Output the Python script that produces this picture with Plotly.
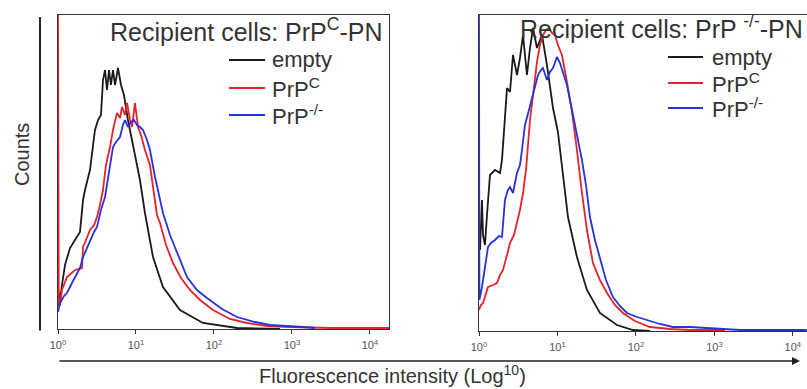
import plotly.graph_objects as go

# ---------- data (x in log10 decades of fluorescence, y = counts, arbitrary units) ----------
# Left panel: Recipient cells PrPc-PN
L_empty_dec = [0.000, 0.026, 0.051, 0.090, 0.154, 0.218, 0.282, 0.321, 0.346, 0.410, 0.474, 0.513, 0.551,
               0.577, 0.603, 0.628, 0.654, 0.679, 0.705, 0.731, 0.769, 0.808, 0.846, 0.897, 0.949, 1.000,
               1.051, 1.115, 1.218, 1.346, 1.564, 1.859, 2.295, 2.846]
L_empty_cnt = [39, 29, 44, 64, 81, 89, 97, 129, 139, 159, 199, 209, 214,
               249, 259, 239, 259, 244, 259, 244, 261, 244, 234, 209, 189, 169,
               149, 116, 72, 42, 19, 6, 1, 0]

L_prpc_dec = [0.000, 0.010, 0.026, 0.051, 0.115, 0.218, 0.308, 0.321, 0.359, 0.410, 0.462, 0.500, 0.538,
              0.577, 0.615, 0.667, 0.705, 0.756, 0.795, 0.821, 0.859, 0.885, 0.923, 0.949, 0.987, 1.026,
              1.064, 1.115, 1.179, 1.218, 1.269, 1.308, 1.385, 1.474, 1.577, 1.692, 1.821, 1.987, 2.205,
              2.423, 2.679, 2.974, 3.487, 4.244]
L_prpc_cnt = [314, 24, 24, 39, 52, 59, 61, 82, 89, 99, 104, 112, 124,
              139, 164, 182, 199, 216, 211, 222, 214, 226, 209, 202, 226, 202,
              194, 179, 164, 144, 114, 106, 84, 66, 51, 39, 29, 19, 10,
              6, 3, 2, 1, 1]

L_ko_dec = [0.000, 0.026, 0.077, 0.115, 0.179, 0.244, 0.282, 0.321, 0.372, 0.410, 0.462, 0.500, 0.551,
            0.603, 0.641, 0.679, 0.705, 0.744, 0.795, 0.833, 0.859, 0.897, 0.936, 0.974, 1.013, 1.051,
            1.090, 1.141, 1.179, 1.244, 1.295, 1.346, 1.436, 1.526, 1.654, 1.782, 1.910, 2.103, 2.295,
            2.526, 2.718, 3.141, 3.295]
L_ko_cnt = [17, 26, 33, 36, 46, 56, 61, 72, 81, 89, 97, 102, 119,
            132, 151, 169, 182, 187, 192, 204, 209, 202, 207, 209, 204, 202,
            199, 189, 179, 152, 134, 116, 94, 76, 52, 39, 31, 20, 12,
            7, 4, 2, 1]

# Right panel: Recipient cells PrP-/- PN
R_empty_dec = [0.013, 0.038, 0.051, 0.076, 0.102, 0.140, 0.204, 0.268, 0.293, 0.318, 0.357, 0.395, 0.433,
               0.484, 0.522, 0.561, 0.611, 0.650, 0.688, 0.739, 0.803, 0.866, 0.904, 0.943, 1.006, 1.057,
               1.134, 1.248, 1.376, 1.541, 1.758, 1.962, 2.178]
R_empty_cnt = [81, 131, 96, 86, 116, 156, 161, 158, 171, 201, 243, 239, 276,
               256, 273, 296, 256, 283, 303, 283, 296, 266, 243, 223, 199, 166,
               114, 74, 41, 18, 6, 1, 0]

R_prpc_dec = [0.000, 0.025, 0.051, 0.115, 0.178, 0.229, 0.268, 0.306, 0.357, 0.395, 0.446, 0.484, 0.522,
              0.561, 0.599, 0.650, 0.701, 0.739, 0.777, 0.815, 0.854, 0.892, 0.930, 0.968, 1.006, 1.057,
              1.121, 1.185, 1.248, 1.299, 1.376, 1.452, 1.541, 1.631, 1.732, 1.834, 1.987, 2.178, 2.433,
              2.688, 3.134]
R_prpc_cnt = [21, 26, 28, 44, 46, 48, 56, 61, 76, 88, 96, 108, 121,
              138, 161, 211, 246, 269, 286, 296, 301, 303, 298, 296, 286, 276,
              249, 219, 181, 146, 101, 68, 51, 38, 26, 18, 10, 4, 2,
              1, 1]

R_ko_dec = [0.000, 0.005, 0.038, 0.076, 0.115, 0.153, 0.204, 0.255, 0.293, 0.331, 0.369, 0.395, 0.433,
            0.484, 0.522, 0.548, 0.586, 0.637, 0.675, 0.713, 0.752, 0.790, 0.815, 0.866, 0.904, 0.943,
            0.994, 1.032, 1.083, 1.121, 1.185, 1.248, 1.312, 1.363, 1.414, 1.478, 1.541, 1.618, 1.707,
            1.796, 1.885, 2.013, 2.140, 2.306, 2.471, 2.688, 2.904, 3.325, 4.178]
R_ko_cnt = [316, 31, 44, 64, 84, 88, 91, 95, 94, 131, 141, 144, 138,
            158, 166, 181, 206, 221, 233, 246, 256, 261, 263, 251, 259, 263,
            274, 268, 256, 246, 221, 196, 171, 146, 114, 91, 74, 51, 34,
            25, 18, 14, 11, 7, 4, 4, 3, 1, 1]

series_names = ["empty", "PrP<sup>C</sup>", "PrP<sup>-/-</sup>"]
series_colors = ["#1a1a1a", "#e8222a", "#2633d9"]

tick_vals = [1, 10, 100, 1000, 10000]
tick_text = ["10<sup>0</sup>", "10<sup>1</sup>", "10<sup>2</sup>", "10<sup>3</sup>", "10<sup>4</sup>"]

left_title = "Recipient cells: PrP<sup>C</sup>-PN"
right_title = "Recipient cells: PrP <sup>-/-</sup>-PN"

FONT = "Liberation Sans, Arial, sans-serif"
W, H = 807, 389

fig = go.Figure()

left = [(L_empty_dec, L_empty_cnt), (L_prpc_dec, L_prpc_cnt), (L_ko_dec, L_ko_cnt)]
right = [(R_empty_dec, R_empty_cnt), (R_prpc_dec, R_prpc_cnt), (R_ko_dec, R_ko_cnt)]

for i, (d, c) in enumerate(left):
    fig.add_trace(go.Scatter(x=[10 ** v for v in d], y=c, mode="lines", name=series_names[i],
                             line=dict(color=series_colors[i], width=1.8),
                             xaxis="x", yaxis="y", showlegend=False))
for i, (d, c) in enumerate(right):
    fig.add_trace(go.Scatter(x=[10 ** v for v in d], y=c, mode="lines", name=series_names[i],
                             line=dict(color=series_colors[i], width=1.8),
                             xaxis="x2", yaxis="y2", showlegend=False))

xax = dict(type="log", showgrid=False, zeroline=False, showline=True, linecolor="#333", linewidth=1,
           mirror=True, ticks="outside", ticklen=4, tickcolor="#333", tickvals=tick_vals, ticktext=tick_text,
           ticklabelstandoff=2, automargin=False,
           tickfont=dict(size=11, color="#555", family=FONT))
yax = dict(showgrid=False, zeroline=False, showline=True, linecolor="#333", linewidth=1,
           showticklabels=False, ticks="", automargin=False)

fig.update_layout(
    width=W, height=H, margin=dict(l=0, r=0, t=0, b=0, pad=0, autoexpand=False),
    paper_bgcolor="white", plot_bgcolor="white",
    font=dict(family=FONT, color="#333"),
    xaxis=dict(xax, domain=[58 / W, 389 / W], range=[0, 4.244], anchor="y"),
    yaxis=dict(yax, domain=[60 / H, 374 / H], range=[0, 314], anchor="x", mirror=True),
    xaxis2=dict(xax, domain=[479 / W, 1.0], range=[0, 4.18], anchor="y2"),
    yaxis2=dict(yax, domain=[58 / H, 374 / H], range=[0, 316], anchor="x2", mirror=False),
    showlegend=False,
)

# legend keys (drawn manually, positioned as in the figure)
legend_left = dict(x0=229, x1=265, xt=270, ys=[60, 88, 115])
legend_right = dict(x0=668, x1=703, xt=710, ys=[57, 83, 108])

shapes = []
annotations = []
for lg in (legend_left, legend_right):
    for i, yy in enumerate(lg["ys"]):
        shapes.append(dict(type="line", xref="paper", yref="paper",
                           x0=lg["x0"] / W, x1=lg["x1"] / W, y0=(H - yy) / H, y1=(H - yy) / H,
                           line=dict(color=series_colors[i], width=2)))
        annotations.append(dict(text=series_names[i], x=lg["xt"] / W, y=(H - yy) / H, xref="paper",
                                yref="paper", xanchor="left", yanchor="middle", showarrow=False,
                                font=dict(size=22, color="#333", family=FONT)))

annotations += [
    dict(text=left_title, x=384 / W, y=(H - 30) / H, xref="paper", yref="paper", xanchor="right",
         yanchor="middle", showarrow=False, font=dict(size=25, color="#333", family=FONT)),
    dict(text=right_title, x=805 / W, y=(H - 27) / H, xref="paper", yref="paper", xanchor="right",
         yanchor="middle", showarrow=False, font=dict(size=25, color="#333", family=FONT)),
    dict(text="Counts", x=22 / W, y=(H - 155) / H, xref="paper", yref="paper", textangle=-90,
         xanchor="center", yanchor="middle",
         showarrow=False, font=dict(size=20, color="#333", family=FONT)),
    dict(text="Fluorescence intensity (Log<sup>10</sup>)", x=392 / W, y=0, xref="paper",
         yref="paper", xanchor="center", yanchor="bottom",
         showarrow=False, font=dict(size=20, color="#333", family=FONT)),
    # vertical Counts axis arrow
    dict(text="", x=40 / W, y=(H - 17) / H, xref="paper", yref="paper", showarrow=True,
         ax=0, ay=315, arrowhead=0, arrowwidth=2, arrowcolor="#222"),
    # horizontal fluorescence axis arrow
    dict(text="", x=800 / W, y=(H - 361) / H, xref="paper", yref="paper", showarrow=True,
         ax=-742, ay=0, arrowhead=2, arrowsize=1, arrowwidth=1.6, arrowcolor="#222"),
]
fig.update_layout(annotations=annotations, shapes=shapes)

fig.write_html("out.html")
